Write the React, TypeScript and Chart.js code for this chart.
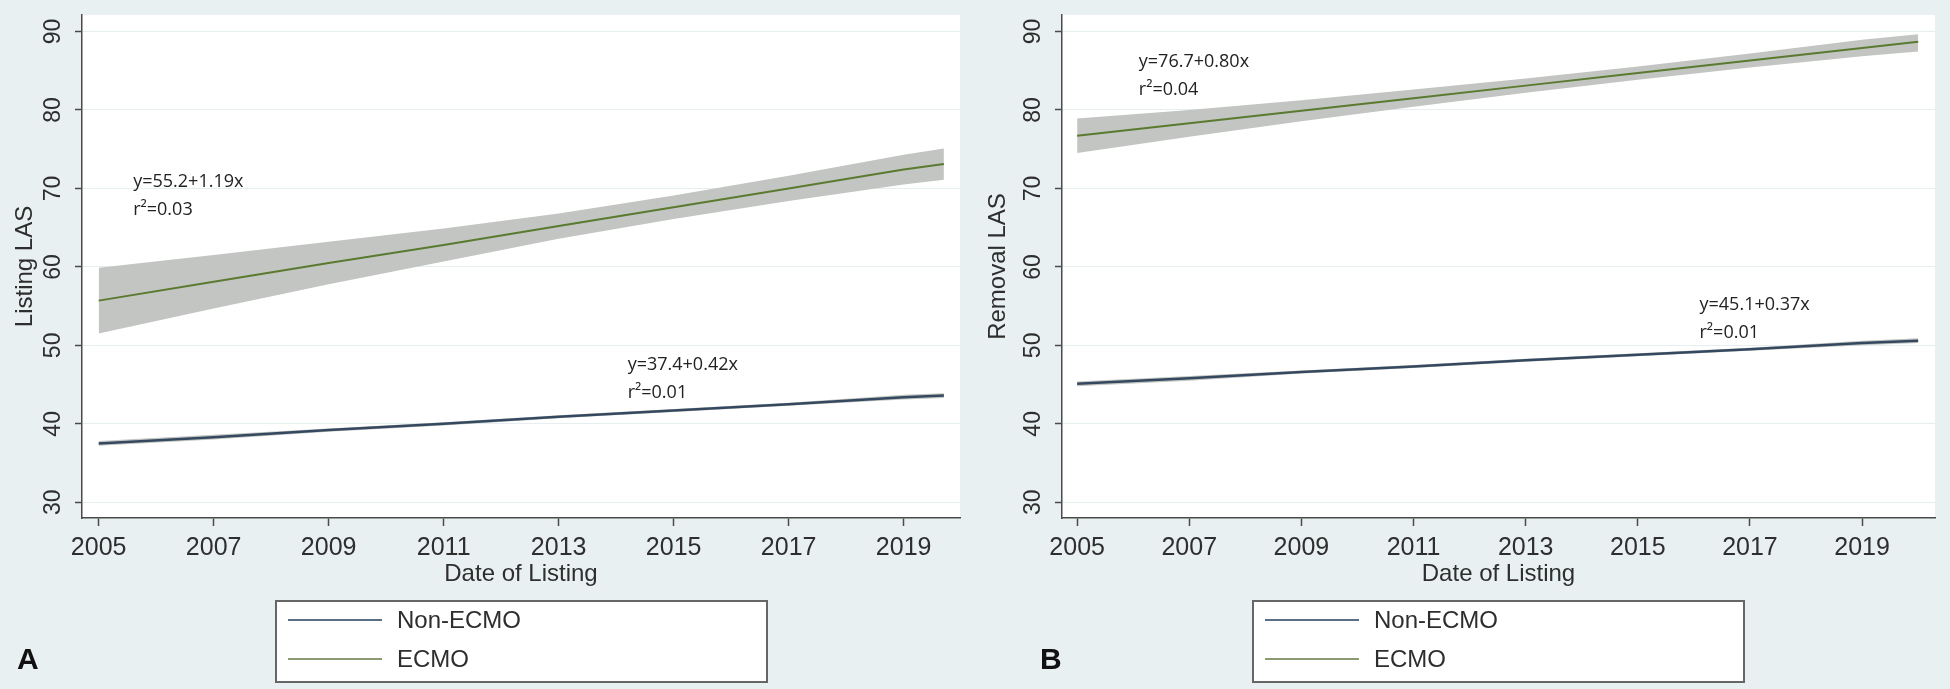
import React, { useEffect, useRef } from 'react';
import { Chart, registerables } from 'chart.js';

Chart.register(...registerables);

// ---------- data ----------
const seriesNames = ['Non-ECMO', 'ECMO'];
const xTickValues = [2005, 2007, 2009, 2011, 2013, 2015, 2017, 2019];
const yTickValues = [30, 40, 50, 60, 70, 80, 90];

// Panel A: Listing LAS
const yearsA = [2005, 2007, 2009, 2011, 2013, 2015, 2017, 2019, 2019.7];
const nonEcmoA = [37.5, 38.3, 39.2, 40.0, 40.9, 41.7, 42.5, 43.4, 43.6];
const nonEcmoUpperA = [37.8, 38.6, 39.4, 40.2, 41.1, 41.9, 42.7, 43.7, 43.9];
const nonEcmoLowerA = [37.2, 38.0, 39.0, 39.8, 40.7, 41.5, 42.3, 43.1, 43.3];
const ecmoA = [55.7, 58.1, 60.5, 62.8, 65.2, 67.6, 70.0, 72.4, 73.1];
const ecmoUpperA = [59.9, 61.5, 63.2, 64.9, 66.8, 69.1, 71.6, 74.3, 75.1];
const ecmoLowerA = [51.5, 54.7, 57.8, 60.7, 63.6, 66.1, 68.4, 70.5, 71.1];
const notesA = [
  { x: 2005.6, y: 70.8, lines: ['y=55.2+1.19x', 'r²=0.03'] },
  { x: 2014.2, y: 47.5, lines: ['y=37.4+0.42x', 'r²=0.01'] },
];

// Panel B: Removal LAS
const yearsB = [2005, 2007, 2009, 2011, 2013, 2015, 2017, 2019, 2020];
const nonEcmoB = [45.1, 45.8, 46.6, 47.3, 48.1, 48.8, 49.5, 50.3, 50.6];
const nonEcmoUpperB = [45.4, 46.1, 46.8, 47.5, 48.3, 49.0, 49.7, 50.6, 50.9];
const nonEcmoLowerB = [44.8, 45.5, 46.4, 47.1, 47.9, 48.6, 49.3, 50.0, 50.3];
const ecmoB = [76.7, 78.3, 79.9, 81.5, 83.1, 84.7, 86.3, 87.9, 88.7];
const ecmoUpperB = [78.9, 80.0, 81.25, 82.6, 84.0, 85.55, 87.2, 88.95, 89.65];
const ecmoLowerB = [74.5, 76.6, 78.55, 80.4, 82.2, 83.85, 85.4, 86.85, 87.45];
const notesB = [
  { x: 2006.1, y: 86.1, lines: ['y=76.7+0.80x', 'r²=0.04'] },
  { x: 2016.1, y: 55.1, lines: ['y=45.1+0.37x', 'r²=0.01'] },
];

// ---------- styles ----------
const FONT = '"Liberation Sans", Arial, sans-serif';
const BG = '#e9f0f2';
const AXIS = '#4a4a4a';
const GRID = '#e6eef0';
const TEXT = '#2e2e2e';
const BAND = '#c3c5c2';
const COLORS = ['#34495f', '#5a7a30'];
const LEGEND_COLORS = ['#5a6e86', '#8c9a74'];

type Note = { x: number; y: number; lines: string[] };
type PanelSpec = {
  letter: string;
  letterX: number;
  yTitle: string;
  yTitlePad: number;
  yAxisWidth: number;
  xMin: number;
  xMax: number;
  years: number[];
  nonEcmo: number[];
  nonEcmoUpper: number[];
  nonEcmoLower: number[];
  ecmo: number[];
  ecmoUpper: number[];
  ecmoLower: number[];
  notes: Note[];
};

const panels: PanelSpec[] = [
  {
    letter: 'A', letterX: 17, yTitle: 'Listing LAS', yTitlePad: 10.6, yAxisWidth: 82,
    xMin: 2004.71, xMax: 2019.98,
    years: yearsA, nonEcmo: nonEcmoA, nonEcmoUpper: nonEcmoUpperA, nonEcmoLower: nonEcmoLowerA,
    ecmo: ecmoA, ecmoUpper: ecmoUpperA, ecmoLower: ecmoLowerA, notes: notesA,
  },
  {
    letter: 'B', letterX: 65, yTitle: 'Removal LAS', yTitlePad: 8.6, yAxisWidth: 87,
    xMin: 2004.73, xMax: 2020.3,
    years: yearsB, nonEcmo: nonEcmoB, nonEcmoUpper: nonEcmoUpperB, nonEcmoLower: nonEcmoLowerB,
    ecmo: ecmoB, ecmoUpper: ecmoUpperB, ecmoLower: ecmoLowerB, notes: notesB,
  },
];

const pts = (xs: number[], ys: number[]) => xs.map((x, i) => ({ x, y: ys[i] }));

function makeDecor(p: PanelSpec) {
  return {
    id: 'decor' + p.letter,
    beforeDraw(chart: any) {
      const { ctx, chartArea: a } = chart;
      ctx.save();
      ctx.fillStyle = '#ffffff';
      ctx.fillRect(a.left, a.top, a.right - a.left, a.bottom - a.top);
      ctx.restore();
    },
    afterDraw(chart: any) {
      const { ctx, chartArea: a, scales } = chart;
      const xs = scales.x;
      const ys = scales.y;
      ctx.save();
      // regression annotations
      ctx.font = '18px "Open Sans", sans-serif';
      ctx.fillStyle = '#222';
      ctx.textAlign = 'left';
      ctx.textBaseline = 'middle';
      p.notes.forEach((n) => {
        const px = xs.getPixelForValue(n.x);
        const py = ys.getPixelForValue(n.y);
        n.lines.forEach((t, i) => ctx.fillText(t, px, py + i * 28));
      });
      // legend box
      const cx = (a.left + a.right) / 2;
      const w = 491;
      const h = 81;
      const top = 601;
      const lx = Math.round(cx - w / 2);
      ctx.fillStyle = '#ffffff';
      ctx.fillRect(lx, top, w, h);
      ctx.strokeStyle = '#666';
      ctx.lineWidth = 2;
      ctx.strokeRect(lx, top, w, h);
      seriesNames.forEach((name, i) => {
        const y = top + 19 + i * 39;
        ctx.strokeStyle = LEGEND_COLORS[i];
        ctx.lineWidth = 2;
        ctx.beginPath();
        ctx.moveTo(lx + 12, y);
        ctx.lineTo(lx + 106, y);
        ctx.stroke();
        ctx.fillStyle = TEXT;
        ctx.font = '24px ' + FONT;
        ctx.fillText(name, lx + 121, y + 1);
      });
      // panel letter
      ctx.fillStyle = '#111';
      ctx.font = 'bold 30px ' + FONT;
      ctx.fillText(p.letter, p.letterX, 661);
      ctx.restore();
    },
  };
}

function Panel({ spec, left }: { spec: PanelSpec; left: number }) {
  const ref = useRef<HTMLCanvasElement | null>(null);
  useEffect(() => {
    if (!ref.current) return;
    const band = { borderWidth: 0, pointRadius: 0, backgroundColor: BAND, borderColor: 'rgba(0,0,0,0)', order: 2 };
    const chart = new Chart(ref.current, {
      type: 'line',
      data: {
        datasets: [
          { ...band, data: pts(spec.years, spec.nonEcmoUpper), fill: false },
          { ...band, data: pts(spec.years, spec.nonEcmoLower), fill: '-1' },
          { ...band, data: pts(spec.years, spec.ecmoUpper), fill: false },
          { ...band, data: pts(spec.years, spec.ecmoLower), fill: '-1' },
          { label: seriesNames[0], data: pts(spec.years, spec.nonEcmo), borderWidth: 2.5, pointRadius: 0, fill: false, borderColor: COLORS[0], order: 0 },
          { label: seriesNames[1], data: pts(spec.years, spec.ecmo), borderWidth: 2, pointRadius: 0, fill: false, borderColor: COLORS[1], order: 0 },
        ],
      },
      options: {
        responsive: false,
        animation: false,
        devicePixelRatio: 1,
        layout: { padding: { left: 0, top: 15, right: 15, bottom: 95 } },
        plugins: { legend: { display: false }, tooltip: { enabled: false } },
        elements: { point: { radius: 0 }, line: { tension: 0 } },
        scales: {
          x: {
            type: 'linear',
            min: spec.xMin,
            max: spec.xMax,
            afterBuildTicks: (s: any) => { s.ticks = xTickValues.map((v) => ({ value: v })); },
            afterFit: (s: any) => { s.height = 76; s.paddingLeft = 0; s.paddingRight = 0; },
            grid: { drawOnChartArea: false, drawTicks: true, tickLength: 8, tickColor: AXIS, tickWidth: 1.5 },
            border: { display: true, color: AXIS, width: 1.5 },
            ticks: {
              padding: 7, color: TEXT, font: { size: 25, family: FONT }, autoSkip: false,
              minRotation: 0, maxRotation: 0, callback: (v: any) => String(v),
            },
            title: { display: true, text: 'Date of Listing', color: TEXT, font: { size: 24, family: FONT }, padding: { top: 0, bottom: 5 } },
          },
          y: {
            type: 'linear',
            min: 28,
            max: 92.1,
            afterBuildTicks: (s: any) => { s.ticks = yTickValues.map((v) => ({ value: v })); },
            afterFit: (s: any) => { s.width = spec.yAxisWidth; s.paddingTop = 0; s.paddingBottom = 0; },
            grid: { color: GRID, lineWidth: 1, drawTicks: true, tickLength: 7, tickColor: AXIS, tickWidth: 1.5 },
            border: { display: true, color: AXIS, width: 1.5 },
            ticks: {
              padding: 9, color: TEXT, font: { size: 23, family: FONT }, autoSkip: false,
              minRotation: 90, maxRotation: 90, crossAlign: 'center',
            },
            title: { display: true, text: spec.yTitle, color: TEXT, font: { size: 24, family: FONT }, padding: { top: spec.yTitlePad, bottom: 0 } },
          },
        },
      } as any,
      plugins: [makeDecor(spec)],
    });
    return () => chart.destroy();
  }, [spec]);
  return (
    <canvas
      ref={ref}
      width={975}
      height={689}
      style={{ position: 'absolute', left, top: 0, width: 975, height: 689 }}
    />
  );
}

export default function App() {
  useEffect(() => {
    document.body.style.margin = '0';
  }, []);
  return (
    <div style={{ position: 'relative', width: 1950, height: 689, background: BG, overflow: 'hidden' }}>
      <Panel spec={panels[0]} left={0} />
      <Panel spec={panels[1]} left={975} />
    </div>
  );
}
